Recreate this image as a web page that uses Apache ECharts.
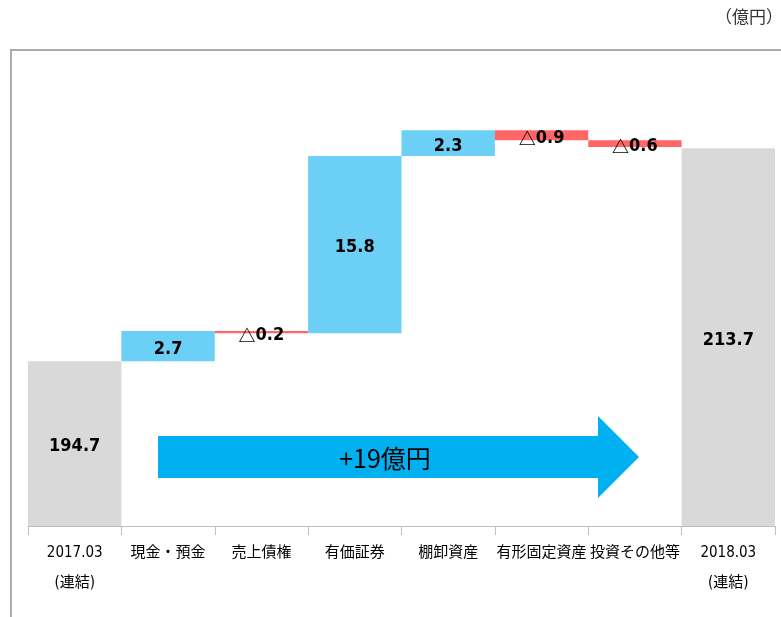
<!DOCTYPE html>
<html>
<head>
<meta charset="utf-8">
<script src="https://cdn.jsdelivr.net/npm/echarts@6/dist/echarts.min.js"></script>
<style>
  html, body { margin: 0; padding: 0; background: #fff; }
  #chart { width: 781px; height: 617px; }
</style>
</head>
<body>
<div id="chart"></div>
<script>
// Balance-sheet asset bridge: 2017.03 -> 2018.03 (unit: 億円)
const categories = ['2017.03\n(連結)', '現金・預金', '売上債権', '有価証券', '棚卸資産', '有形固定資産', '投資その他等', '2018.03\n(連結)'];
const startValue = 194.7;
const endValue = 213.7;
const changes = [2.7, -0.2, 15.8, 2.3, -0.9, -0.6];
const yTicks = { min: 180, max: 218 };
const arrowText = '+19億円';
const unitText = '（億円）';

// Build the stacked series: invisible base + increase + decrease + totals
const base = ['-'];
const incr = ['-'];
const decr = ['-'];
const totals = [startValue];
let running = startValue;
changes.forEach(function (c) {
  if (c >= 0) {
    base.push(running);
    incr.push(c);
    decr.push('-');
  } else {
    base.push(running + c);
    incr.push('-');
    decr.push(-c);
  }
  totals.push('-');
  running += c;
});
base.push('-');
incr.push('-');
decr.push('-');
totals.push(endValue);

const numFont = "'DejaVu Sans Condensed', 'Noto Sans CJK JP', sans-serif";
const cjkFont = "'Noto Sans CJK JP', sans-serif";

const valueLabel = {
  show: true,
  position: 'inside',
  offset: [0, 3],
  color: '#000',
  fontWeight: 'bold',
  fontSize: 18,
  fontFamily: numFont
};

const chart = echarts.init(document.getElementById('chart'), null, { renderer: 'canvas' });
chart.setOption({
  animation: false,
  backgroundColor: '#ffffff',
  grid: { left: 28, right: 6, top: 100, bottom: 91 },
  xAxis: {
    type: 'category',
    data: categories,
    axisLine: { lineStyle: { color: '#bfbfbf', width: 1 } },
    axisTick: { show: true, length: 9, lineStyle: { color: '#bfbfbf' } },
    axisLabel: {
      color: '#000',
      fontSize: 15,
      fontFamily: numFont,
      lineHeight: 30,
      margin: 12,
      interval: 0
    }
  },
  yAxis: {
    type: 'value',
    min: yTicks.min,
    max: yTicks.max,
    show: false,
    splitLine: { show: false }
  },
  series: [
    {
      name: 'base',
      type: 'bar',
      stack: 'wf',
      data: base,
      barCategoryGap: '0%',
      itemStyle: { color: 'transparent' },
      silent: true
    },
    {
      name: 'increase',
      type: 'bar',
      stack: 'wf',
      data: incr,
      itemStyle: { color: '#6ccff6' },
      label: Object.assign({}, valueLabel, {
        formatter: function (p) { return p.value.toFixed(1); }
      })
    },
    {
      name: 'decrease',
      type: 'bar',
      stack: 'wf',
      data: decr,
      itemStyle: { color: '#ff6666' },
      label: Object.assign({}, valueLabel, {
        formatter: function (p) { return '{t|△}' + p.value.toFixed(1); },
        rich: {
          t: { fontFamily: cjkFont, fontSize: 17, color: '#000', fontWeight: 'bold' }
        }
      })
    },
    {
      name: 'total',
      type: 'bar',
      stack: 'wf',
      data: totals,
      itemStyle: { color: '#d9d9d9' },
      label: Object.assign({}, valueLabel, {
        formatter: function (p) { return p.value.toFixed(1); }
      })
    }
  ],
  graphic: [
    {
      type: 'polyline',
      shape: { points: [[11, 617], [11, 50], [781, 50]] },
      style: { stroke: '#ababab', lineWidth: 2, fill: null },
      z: 0
    },
    {
      type: 'text',
      right: -2,
      top: 8,
      style: {
        text: unitText,
        fontSize: 17,
        fill: '#333',
        fontFamily: cjkFont
      }
    },
    {
      type: 'polygon',
      shape: {
        points: [[158, 436], [598, 436], [598, 416], [639, 457], [598, 498], [598, 478], [158, 478]]
      },
      style: { fill: '#00b0f0' },
      z: 10
    },
    {
      type: 'text',
      x: 385,
      y: 458,
      style: {
        text: arrowText,
        fontSize: 25,
        fill: '#000',
        align: 'center',
        verticalAlign: 'middle',
        fontFamily: cjkFont
      },
      z: 11
    }
  ]
});
</script>
</body>
</html>
